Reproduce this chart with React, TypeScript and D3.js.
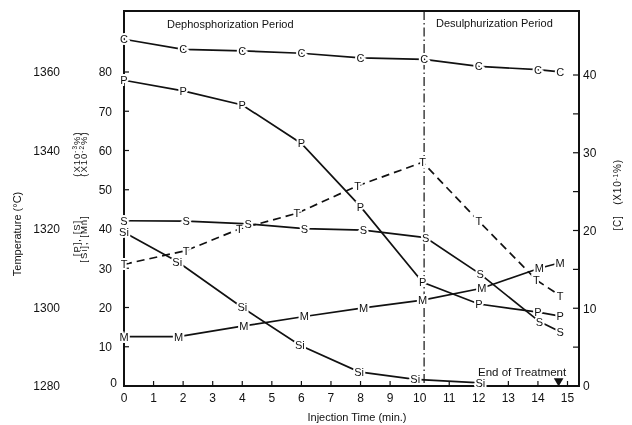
import * as d3 from 'd3'

const cTime = [0, 2, 4, 6, 8, 10.15, 12, 14, 14.75]
const cValues = [44.6, 43.3, 43.1, 42.8, 42.2, 42.0, 41.1, 40.7, 40.4]

const pTime = [0, 2, 4, 6, 8, 10.1, 12, 14, 14.75]
const pValues = [77.9, 75.2, 71.6, 61.8, 45.7, 26.4, 20.9, 18.8, 17.8]

const sTime = [0, 2.1, 4.2, 6.1, 8.1, 10.2, 12.05, 14.05, 14.75]
const sValues = [42.1, 42.0, 41.3, 40.1, 39.7, 37.8, 28.5, 16.4, 13.8]

const siTime = [0, 1.8, 4, 5.95, 7.95, 9.85, 12.05]
const siValues = [39.2, 31.7, 20.0, 10.4, 3.6, 1.7, 0.8]

const mTime = [0, 1.85, 4.05, 6.1, 8.1, 10.1, 12.1, 14.05, 14.75]
const mValues = [12.6, 12.6, 15.3, 17.7, 19.9, 21.9, 24.9, 30.0, 31.4]

const tTime = [0, 2.1, 3.9, 5.85, 7.9, 10.1, 12, 13.95, 14.75]
const tValues = [1311, 1314.5, 1320, 1324, 1331, 1337, 1322, 1307, 1303]

const xTicks = d3.range(0, 16)
const leftTicks = d3.range(0, 90, 10)
const tempTicks = [1280, 1300, 1320, 1340, 1360]
const rightTicks = d3.range(0, 45, 5)
const rightLabels = [0, 10, 20, 30, 40]

const periodSplit = 10.15
const treatmentEnd = 14.7

const FONT = 'Liberation Sans, Arial, Helvetica, sans-serif'
const INK = '#111'

const x = d3.scaleLinear().domain([0, 15]).range([124, 567.5])
const yL = d3.scaleLinear().domain([0, 80]).range([386, 72])
const yT = d3.scaleLinear().domain([1280, 1360]).range([386, 72])
const yR = d3.scaleLinear().domain([0, 40]).range([386, 75])

const left = x(0)
const right = 579
const top = 11
const bottom = yL(0)

type Pt = [number, number]

function Series({ times, values, y, mark, dash }: {
  times: number[]; values: number[]; y: d3.ScaleLinear<number, number>; mark: string; dash?: string
}) {
  const pts: Pt[] = times.map((t, i) => [x(t), y(values[i])])
  const line = d3.line<Pt>().x(d => d[0]).y(d => d[1])
  return (
    <g>
      <path d={line(pts) ?? ''} fill="none" stroke={INK} strokeWidth={1.7} strokeDasharray={dash} />
      {pts.map((p, i) => (
        <g key={i} fontSize={11} textAnchor="middle">
          <text x={p[0]} y={p[1]} dy="0.36em" fill="#fff" stroke="#fff" strokeWidth={4}>{mark}</text>
          <text x={p[0]} y={p[1]} dy="0.36em" fill={INK}>{mark}</text>
        </g>
      ))}
    </g>
  )
}

function Exp({ base, exp }: { base: string; exp: string }) {
  return <>{base}<tspan dy="-3.5" fontSize={6.5}>{exp}</tspan><tspan dy="3.5">%)</tspan></>
}

export default function App() {
  return (
    <svg width={632} height={425}
      style={{ position: 'absolute', left: 0, top: 0, background: '#fff', filter: 'grayscale(1)' }}
      fontFamily={FONT}>
      {/* frame */}
      <path d={`M${left},${bottom}V${top}H${right}V${bottom}Z`} fill="none" stroke={INK} strokeWidth={2} />

      {/* period divider */}
      <line x1={x(periodSplit)} x2={x(periodSplit)} y1={top} y2={bottom} stroke={INK}
        strokeWidth={1.2} strokeDasharray="9,3,1.5,3" />

      {/* ticks */}
      {xTicks.map(t => (
        <g key={t}>
          <line x1={x(t)} x2={x(t)} y1={bottom} y2={bottom - 5} stroke={INK} strokeWidth={1.2} />
          <text x={x(t)} y={bottom + 16} textAnchor="middle" fontSize={12} fill={INK}>{t}</text>
        </g>
      ))}
      {leftTicks.map(v => (
        <g key={v}>
          {v > 0 && <line x1={left} x2={left + 5} y1={yL(v)} y2={yL(v)} stroke={INK} strokeWidth={1.2} />}
          <text x={v === 0 ? left - 7 : left - 12} y={yL(v)} dy={v === 0 ? '0.1em' : '0.36em'}
            textAnchor="end" fontSize={12} fill={INK}>{v}</text>
        </g>
      ))}
      {tempTicks.map(v => (
        <text key={v} x={60} y={yT(v)} dy="0.36em" textAnchor="end" fontSize={12} fill={INK}>{v}</text>
      ))}
      {rightTicks.map(v => (
        <line key={v} x1={right} x2={right - 6} y1={yR(v)} y2={yR(v)} stroke={INK} strokeWidth={1.2} />
      ))}
      {rightLabels.map(v => (
        <text key={v} x={right + 4} y={yR(v)} dy="0.36em" fontSize={12} fill={INK}>{v}</text>
      ))}

      {/* data */}
      <Series times={tTime} values={tValues} y={yT} mark="T" dash="8,5" />
      <Series times={cTime} values={cValues} y={yR} mark="C" />
      <Series times={pTime} values={pValues} y={yL} mark="P" />
      <Series times={sTime} values={sValues} y={yL} mark="S" />
      <Series times={siTime} values={siValues} y={yL} mark="Si" />
      <Series times={mTime} values={mValues} y={yL} mark="M" />

      {/* annotations */}
      <text x={167} y={28} fontSize={11} fill={INK}>Dephosphorization Period</text>
      <text x={436} y={27} fontSize={11} fill={INK}>Desulphurization Period</text>
      <text x={478} y={376} fontSize={11.5} fill={INK}>End of Treatment</text>
      <path d={d3.symbol(d3.symbolTriangle, 40)() ?? ''} fill={INK}
        transform={`translate(${x(treatmentEnd)},${bottom - 5}) rotate(180)`} />

      {/* axis titles */}
      <text x={357} y={421} textAnchor="middle" fontSize={11} fill={INK}>Injection Time (min.)</text>
      <text transform="translate(21,234) rotate(-90)" textAnchor="middle" fontSize={11} fill={INK}>Temperature (°C)</text>
      <g transform="translate(80,0) rotate(-90)" fontSize={9.5} fill={INK} letterSpacing={1}>
        <text x={-238} textAnchor="middle">[P], [S]</text>
        <text x={-154} textAnchor="middle"><Exp base="(X10" exp="-3" /></text>
      </g>
      <g transform="translate(87,0) rotate(-90)" fontSize={9.5} fill={INK} letterSpacing={1}>
        <text x={-239} textAnchor="middle">[Si], [Mn]</text>
        <text x={-154} textAnchor="middle"><Exp base="(X10" exp="-2" /></text>
      </g>
      <g transform="translate(621,0) rotate(-90)" fontSize={10} fill={INK} letterSpacing={0.8}>
        <text x={-223} textAnchor="middle">[C]</text>
        <text x={-182} textAnchor="middle"><Exp base="(X10" exp="-1" /></text>
      </g>
    </svg>
  )
}
